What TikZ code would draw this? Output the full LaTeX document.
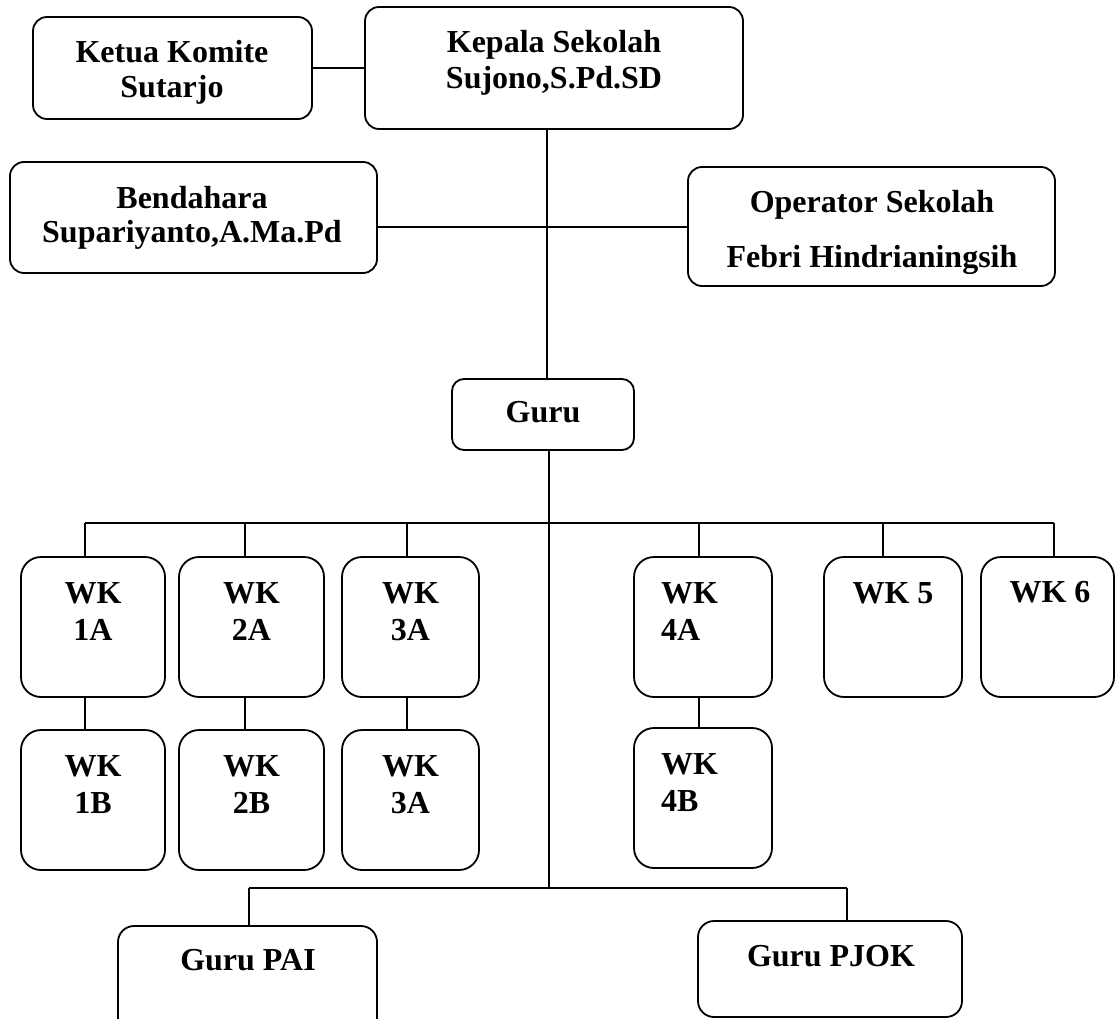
\documentclass[tikz,border=0pt]{standalone}
\usepackage{fontspec}
\setmainfont{Liberation Serif}
\begin{document}
\begin{tikzpicture}[x=1pt,y=-1pt,
  box/.style={draw, line width=1.8pt, rounded corners=#1, inner sep=0pt, minimum width=0pt, minimum height=0pt},
  box/.default=14pt,
  lbl/.style={anchor=base, inner sep=0pt, font=\bfseries\fontsize{32}{37}\selectfont},
  lblw/.style={lbl, anchor=base west},
  conn/.style={line width=1.6pt}]
\useasboundingbox (0,0) rectangle (1116,1019);
\clip (0,0) rectangle (1116,1019);

% boxes
\node[box, minimum width=279pt, minimum height=102pt] (ketua) at (172.5,68) {};
\node[box, minimum width=378pt, minimum height=122pt] (kepala) at (554,68) {};
\node[box, minimum width=367pt, minimum height=111pt] (bend) at (193.5,217.5) {};
\node[box, minimum width=367pt, minimum height=119pt] (oper) at (871.5,226.5) {};
\node[box=12pt, minimum width=182pt, minimum height=71pt] (guru) at (543,414.5) {};
\node[box=20pt, minimum width=144pt, minimum height=140pt] (wk1a) at (93,627) {};
\node[box=20pt, minimum width=144pt, minimum height=140pt] (wk1b) at (93,800) {};
\node[box=20pt, minimum width=145pt, minimum height=140pt] (wk2a) at (251.5,627) {};
\node[box=20pt, minimum width=145pt, minimum height=140pt] (wk2b) at (251.5,800) {};
\node[box=20pt, minimum width=137pt, minimum height=140pt] (wk3a) at (410.5,627) {};
\node[box=20pt, minimum width=137pt, minimum height=140pt] (wk3b) at (410.5,800) {};
\node[box=20pt, minimum width=138pt, minimum height=140pt] (wk4a) at (703,627) {};
\node[box=20pt, minimum width=138pt, minimum height=140pt] (wk4b) at (703,798) {};
\node[box=20pt, minimum width=138pt, minimum height=140pt] (wk5) at (893,627) {};
\node[box=20pt, minimum width=133pt, minimum height=140pt] (wk6) at (1047.5,627) {};
\node[box=16pt, minimum width=259pt, minimum height=109pt] (pai) at (247.5,980.5) {};
\node[box=16pt, minimum width=264pt, minimum height=96pt] (pjok) at (830,969) {};

% labels
\node[lbl] (t1) at (172,63) {Ketua Komite};
\node[lbl] (t2) at (172,98) {Sutarjo};
\node[lbl] (t3) at (554,53) {Kepala Sekolah};
\node[lbl] (t4) at (554,89) {Sujono,S.Pd.SD};
\node[lbl] (t5) at (192,208) {Bendahara};
\node[lbl] (t6) at (192,243) {Supariyanto,A.Ma.Pd};
\node[lbl] (t7) at (872,212) {Operator Sekolah};
\node[lbl] (t8) at (872,267) {Febri Hindrianingsih};
\node[lbl] (t9) at (543,422) {Guru};
\node[lbl] (t10) at (93,603) {WK};
\node[lbl] (t11) at (93,640) {1A};
\node[lbl] (t12) at (251.5,603) {WK};
\node[lbl] (t13) at (251.5,640) {2A};
\node[lbl] (t14) at (410.5,603) {WK};
\node[lbl] (t15) at (410.5,640) {3A};
\node[lbl] (t16) at (93,776) {WK};
\node[lbl] (t17) at (93,813) {1B};
\node[lbl] (t18) at (251.5,776) {WK};
\node[lbl] (t19) at (251.5,813) {2B};
\node[lbl] (t20) at (410.5,776) {WK};
\node[lbl] (t21) at (410.5,813) {3A};
\node[lblw] (t22) at (661,603) {WK};
\node[lblw] (t23) at (661,640) {4A};
\node[lblw] (t24) at (661,774) {WK};
\node[lblw] (t25) at (661,811) {4B};
\node[lbl] (t26) at (893,603) {WK 5};
\node[lbl] (t27) at (1050,602) {WK 6};
\node[lbl] (t28) at (248,970) {Guru PAI};
\node[lbl] (t29) at (831,966) {Guru PJOK};

% connectors
\coordinate (spine) at (547,227);
\coordinate (trunk) at (549,523);
\coordinate (bot) at (549,888);
\coordinate (d1) at (85,523);
\coordinate (d2) at (245,523);
\coordinate (d3) at (407,523);
\coordinate (d4) at (699,523);
\coordinate (d5) at (883,523);
\coordinate (d6) at (1054,523);
\coordinate (bl) at (249,888);
\coordinate (br) at (847,888);

\draw[conn] (ketua) -- (kepala);
\draw[conn] (spine |- kepala.south) -- (spine |- guru.north);
\draw[conn] (bend.east |- spine) -- (oper.west |- spine);
\draw[conn] (trunk |- guru.south) -- (bot);
\draw[conn] (d1) -- (d6);
\draw[conn] (d1) -- (d1 |- wk1a.north);
\draw[conn] (d2) -- (d2 |- wk2a.north);
\draw[conn] (d3) -- (d3 |- wk3a.north);
\draw[conn] (d4) -- (d4 |- wk4a.north);
\draw[conn] (d5) -- (d5 |- wk5.north);
\draw[conn] (d6) -- (d6 |- wk6.north);
\draw[conn] (d1 |- wk1a.south) -- (d1 |- wk1b.north);
\draw[conn] (d2 |- wk2a.south) -- (d2 |- wk2b.north);
\draw[conn] (d3 |- wk3a.south) -- (d3 |- wk3b.north);
\draw[conn] (d4 |- wk4a.south) -- (d4 |- wk4b.north);
\draw[conn] (bl) -- (br);
\draw[conn] (bl) -- (bl |- pai.north);
\draw[conn] (br) -- (br |- pjok.north);
\end{tikzpicture}
\end{document}
